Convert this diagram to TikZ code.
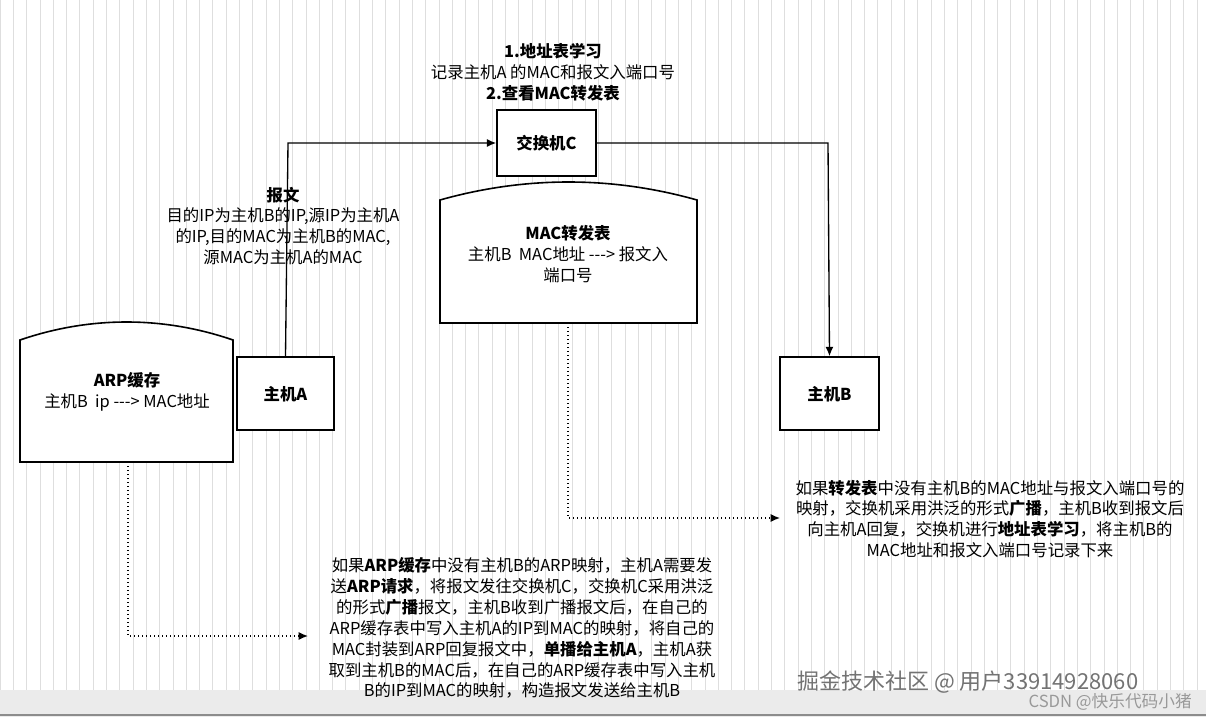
\documentclass[tikz,border=0pt]{standalone}
\usepackage{fontspec}
\setmainfont{Noto Sans CJK SC}
\usetikzlibrary{arrows.meta}
\begin{document}
\begin{tikzpicture}[x=0.75pt,y=-0.75pt,
  box/.style={draw,line width=1.2pt},
  lbl/.style={align=center,font=\fontsize{12.3}{15.7}\selectfont,inner sep=0pt},
  arr/.style={line width=1pt,-{Latex[length=7pt,width=6pt]}},
  dot/.style={line width=1pt,dotted,-{Latex[length=7pt,width=6pt]}}]
\useasboundingbox (0,0) rectangle (1206,717);
\fill[white] (0,0) rectangle (1206,717);
\draw[black!13,line width=0.5pt,step=13.3] (0,0) grid (1206,690);
\fill[black!8] (0,690) rectangle (1206,717);
\draw[black!45,line width=1pt] (0,715) -- (1206,715);
% shapes
\node[box,fill=white,minimum width=99*0.75pt,minimum height=66*0.75pt] (C) at (546.5,143) {};
\node[box,fill=white,minimum width=97*0.75pt,minimum height=73*0.75pt] (A) at (285.5,393.5) {};
\node[box,fill=white,minimum width=99*0.75pt,minimum height=73*0.75pt] (B) at (829.5,393.5) {};
\draw[box,fill=white] (20,340) .. controls (90,316) and (163,316) .. (233,340) -- (233,462) -- (20,462) -- cycle;
\coordinate (arpb) at (128,462);
\draw[box,fill=white] (440,200) .. controls (525,176) and (612,176) .. (697,200) -- (697,323) -- (440,323) -- cycle;
\coordinate (macb) at (568,323);
\node[lbl] at (546.5,143) {\bfseries 交换机C};
\node[lbl] at (285.5,394) {\bfseries 主机A};
\node[lbl] at (829.5,394) {\bfseries 主机B};
\node[lbl] at (127,392) {{\bfseries ARP缓存}\\主机B\ \ ip -{}-{}-> MAC地址};
\node[lbl] at (568,254) {{\bfseries MAC转发表}\\主机B\ \ MAC地址 -{}-{}-> 报文入\\端口号};
% connectors
\draw[arr] (A.north) -- (288,143) -- (C.west);
\draw[arr] (C.east) -- (828,143) -- (B.north);
\coordinate (rn) at (780,518);
\coordinate (bn) at (308,636);
\draw[dot] (macb) -- (568,518) -- (rn);
\draw[dot] (arpb) -- (128,636) -- (bn);
% labels
\node[lbl] at (553,72) {{\bfseries 1.地址表学习}\\记录主机A 的MAC和报文入端口号\\{\bfseries 2.查看MAC转发表}};
\node[lbl] at (283,226) {{\bfseries 报文}\\目的IP为主机B的IP,源IP为主机A\\的IP,目的MAC为主机B的MAC,\\源MAC为主机A的MAC};
\node[lbl] at (990,519) {如果{\bfseries 转发表}中没有主机B的MAC地址与报文入端口号的\\映射，交换机采用洪泛的形式{\bfseries 广播}，主机B收到报文后\\向主机A回复，交换机进行{\bfseries 地址表学习}，将主机B的\\MAC地址和报文入端口号记录下来};
\node[lbl] at (522,628) {如果{\bfseries ARP缓存}中没有主机B的ARP映射，主机A需要发\\送{\bfseries ARP请求}，将报文发往交换机C，交换机C采用洪泛\\的形式{\bfseries 广播}报文，主机B收到广播报文后，在自己的\\ARP缓存表中写入主机A的IP到MAC的映射，将自己的\\MAC封装到ARP回复报文中，{\bfseries 单播给主机A}，主机A获\\取到主机B的MAC后，在自己的ARP缓存表中写入主机\\B的IP到MAC的映射，构造报文发送给主机B};
% watermarks
\node[inner sep=0pt,anchor=west,text=black!55,font=\fontsize{16.5}{16}\selectfont] at (797,682) {掘金技术社区 @ 用户33914928060};
\node[inner sep=0pt,anchor=east,text=black!40,font=\fontsize{12.5}{12}\selectfont] at (1192,702) {CSDN @快乐代码小猪};
\end{tikzpicture}
\end{document}
